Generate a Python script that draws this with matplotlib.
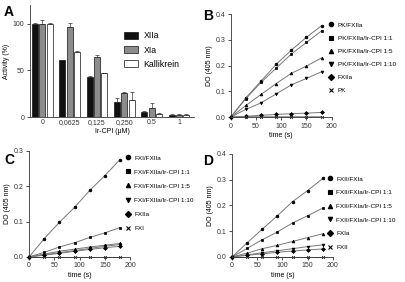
import matplotlib
matplotlib.use("Agg")
import matplotlib.pyplot as plt
from matplotlib.lines import Line2D
from matplotlib.patches import Patch
import numpy as np

plt.rcParams['font.family'] = ['Liberation Sans', 'DejaVu Sans']
plt.rcParams['font.size'] = 5

# ---- Panel A data ----
conc_labels = ["0", "0,0625", "0,125", "0,250", "0.5", "1"]
xiia = [100, 61, 43, 16, 5, 2]
xia = [100, 97, 64, 26, 10, 2.5]
kall = [100, 70, 47, 18, 3, 2]
xiia_err = [1, 0.5, 0.5, 4, 1, 1]
xia_err = [4, 4, 2, 1, 5, 1]
kall_err = [1, 1, 0.5, 9, 1, 1]
bar_names = ["XIIa", "XIa", "Kallikrein"]

# ---- Kinetic data ----
time = [0, 30, 60, 90, 120, 150, 180]

b_labels = ["PK/FXIIa", "PK/FXIIa/Ir-CPI 1:1", "PK/FXIIa/Ir-CPI 1:5",
            "PK/FXIIa/Ir-CPI 1:10", "FXIIa", "PK"]
b_series = [
    [0, 0.075, 0.140, 0.205, 0.260, 0.310, 0.355],
    [0, 0.072, 0.135, 0.190, 0.245, 0.290, 0.335],
    [0, 0.045, 0.088, 0.130, 0.170, 0.198, 0.230],
    [0, 0.030, 0.055, 0.090, 0.125, 0.150, 0.176],
    [0, 0.003, 0.007, 0.010, 0.013, 0.015, 0.018],
    [0, 0.001, 0.001, 0.001, 0.001, 0.001, 0.001],
]

c_labels = ["FXI/FXIIa", "FXI/FXIIa/Ir-CPI 1:1", "FXI/FXIIa/Ir-CPI 1:5",
            "FXI/FXIIa/Ir-CPI 1:10", "FXIIa", "FXI"]
c_series = [
    [0, 0.052, 0.098, 0.140, 0.188, 0.230, 0.275],
    [0, 0.013, 0.028, 0.040, 0.055, 0.068, 0.083],
    [0, 0.008, 0.016, 0.022, 0.028, 0.033, 0.038],
    [0, 0.006, 0.012, 0.018, 0.024, 0.030, 0.035],
    [0, 0.005, 0.010, 0.016, 0.021, 0.026, 0.030],
    [0, 0.000, 0.000, 0.000, 0.000, 0.000, 0.000],
]

d_labels = ["FXII/FXIa", "FXII/FXIa/Ir-CPI 1:1", "FXII/FXIa/Ir-CPI 1:5",
            "FXII/FXIa/Ir-CPI 1:10", "FXIa", "FXII"]
d_series = [
    [0, 0.055, 0.108, 0.160, 0.215, 0.258, 0.305],
    [0, 0.033, 0.067, 0.097, 0.132, 0.160, 0.190],
    [0, 0.015, 0.032, 0.045, 0.060, 0.075, 0.090],
    [0, 0.008, 0.016, 0.024, 0.032, 0.040, 0.047],
    [0, 0.006, 0.012, 0.018, 0.023, 0.027, 0.031],
    [0, 0.000, 0.000, 0.000, 0.000, 0.000, 0.000],
]

markers = ['o', 's', '^', 'v', 'D', 'x']

fig = plt.figure(figsize=(4.05, 2.82), dpi=100)

def style(ax):
    for s in ['top', 'right']:
        ax.spines[s].set_visible(False)
    for s in ['left', 'bottom']:
        ax.spines[s].set_linewidth(0.6)
        ax.spines[s].set_color('#333333')
    ax.tick_params(width=0.6, length=2.5, pad=1.5, colors='#333333', labelsize=5)

# ---- Panel A ----
axA = fig.add_axes([0.074, 0.585, 0.405, 0.397])
style(axA)
x = np.arange(len(conc_labels))
w = 0.22
off = 0.27
colors = ['#111111', '#8c8c8c', 'white']
for i, (vals, errs, c) in enumerate(zip([xiia, xia, kall], [xiia_err, xia_err, kall_err], colors)):
    axA.bar(x + (i - 1) * off, vals, width=w, color=c, edgecolor='#111111', linewidth=0.5,
            yerr=[np.zeros(len(errs)), errs], error_kw=dict(elinewidth=0.5, capsize=1.2, capthick=0.5, ecolor='#333333'),
            label=bar_names[i])
axA.set_xlim(-0.45, 5.55)
axA.set_ylim(0, 120)
axA.set_yticks([0, 50, 100])
axA.set_xticks(x)
axA.set_xticklabels(conc_labels)
axA.tick_params(axis='x', length=0)
axA.set_xlabel("Ir-CPI (\u03bcM)", labelpad=1.5)
axA.set_ylabel("Activity (%)", labelpad=2)
handles = [Patch(facecolor=c, edgecolor='#111111', linewidth=0.5) for c in colors]
axA.legend(handles, bar_names, loc='upper left', bbox_to_anchor=(120/405, 1 - 27/282),
           bbox_transform=fig.transFigure, frameon=False, fontsize=6.3,
           handlelength=1.6, handleheight=0.8, handletextpad=0.6, labelspacing=0.6, borderpad=0)

def kinetic(rect, series, labels, ylim, yticks, leg_xy, spacing):
    ax = fig.add_axes(rect)
    style(ax)
    for ys, m in zip(series, markers):
        ax.plot(time, ys, color='#777777', lw=0.7, marker=m, ms=2.0, mfc='black', mec='black', mew=0.5,
                clip_on=False)
    ax.set_xlim(0, 200)
    ax.set_xticks([0, 50, 100, 150, 200])
    ax.set_ylim(*ylim)
    ax.set_yticks(yticks)
    ax.set_yticklabels([f"{t:.1f}" for t in yticks])
    ax.set_xlabel("time (s)", labelpad=1.5)
    ax.set_ylabel("DO (405 nm)", labelpad=2)
    hs = [Line2D([], [], marker=m, linestyle='none', color='black', ms=3.2, mew=0.8) for m in markers]
    ax.legend(hs, labels, loc='upper left', bbox_to_anchor=leg_xy, bbox_transform=fig.transFigure,
              frameon=False, fontsize=4.6, handlelength=0.6, handletextpad=0.7,
              labelspacing=spacing, borderpad=0)
    return ax

kinetic([0.570, 0.585, 0.249, 0.365], b_series, b_labels, (0, 0.4), [0.0, 0.1, 0.2, 0.3, 0.4],
        (326/405, 1 - 19/282), 1.2)
kinetic([0.072, 0.089, 0.249, 0.376], c_series, c_labels, (0, 0.3), [0.0, 0.1, 0.2, 0.3],
        (123/405, 1 - 152/282), 1.34)
kinetic([0.573, 0.089, 0.249, 0.365], d_series, d_labels, (0, 0.4), [0.0, 0.1, 0.2, 0.3, 0.4],
        (325/405, 1 - 173/282), 1.28)

for lab, (fx, fy) in zip("ABCD", [(4, 12), (203, 16), (4, 160), (203, 161)]):
    fig.text(fx / 405, 1 - fy / 282, lab, fontsize=10, fontweight='bold', va='center', ha='left')

fig.savefig("out.png", dpi=100)
